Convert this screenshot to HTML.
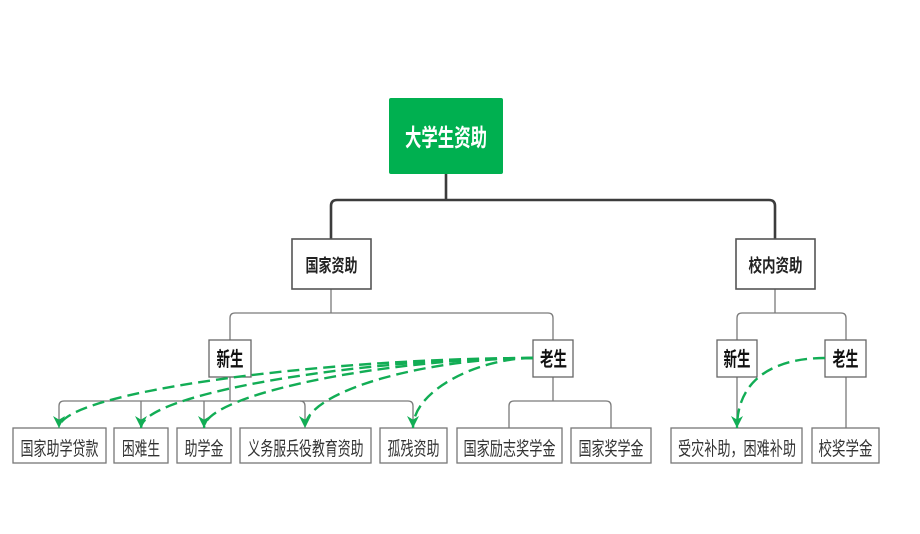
<!DOCTYPE html>
<html><head><meta charset="utf-8"><style>
html,body{margin:0;padding:0;background:#fff;}
svg{display:block;}
text{font-family:"Liberation Sans","Noto Sans CJK SC",sans-serif;}
</style></head><body>
<svg width="920" height="534" viewBox="0 0 920 534" xmlns="http://www.w3.org/2000/svg">
<defs>
<marker id="ah" markerUnits="userSpaceOnUse" markerWidth="12" markerHeight="12" viewBox="0 0 10 10" refX="10" refY="5" orient="auto">
<path d="M0,0 L10,5 L0,10 L3,5 z" fill="#12ad55"/>
</marker>
</defs>
<rect width="920" height="534" fill="#fff"/>

<!-- root connectors -->
<g fill="none" stroke="#3c3c3c" stroke-width="2.6">
<path d="M446,174 V200"/>
<path d="M331,239 V206 Q331,200 337,200 H769 Q775,200 775,206 V239"/>
</g>

<!-- lower connectors -->
<g fill="none" stroke="#7a7a7a" stroke-width="1.3">
<path d="M331,289 V313"/>
<path d="M230,340 V318 Q230,313 235,313 H548 Q553,313 553,318 V340"/>
<path d="M230,377 V401"/>
<path d="M59,428 V406 Q59,401 64,401 H408 Q413,401 413,406 V428"/>
<path d="M141,401 V428"/>
<path d="M204,401 V428"/>
<path d="M305,406 Q305,401 300,401 M305,406 V428"/>
<path d="M553,377 V401"/>
<path d="M509,428 V406 Q509,401 514,401 H606 Q611,401 611,406 V428"/>
<path d="M775,289 V313"/>
<path d="M737,340 V318 Q737,313 742,313 H841 Q846,313 846,318 V340"/>
<path d="M737,377 V428"/>
<path d="M846,377 V428"/>
</g>

<!-- root -->
<rect x="389" y="98" width="114" height="76" rx="2" fill="#00b050"/>
<text x="446" y="146" font-size="24" font-weight="bold" fill="#fff" text-anchor="middle" textLength="82" lengthAdjust="spacingAndGlyphs">大学生资助</text>

<!-- level 2 -->
<g fill="#fff" stroke="#555" stroke-width="1.6">
<rect x="292" y="239" width="79" height="50"/>
<rect x="736" y="239" width="79" height="50"/>
</g>
<text x="331.5" y="272" font-size="18" font-weight="bold" fill="#222" text-anchor="middle" textLength="52" lengthAdjust="spacingAndGlyphs">国家资助</text>
<text x="775.5" y="272" font-size="18" font-weight="bold" fill="#222" text-anchor="middle" textLength="54" lengthAdjust="spacingAndGlyphs">校内资助</text>

<!-- level 3 -->
<g fill="#fff" stroke="#666" stroke-width="1.3">
<rect x="209" y="340" width="42" height="37"/>
<rect x="533" y="340" width="40" height="37"/>
<rect x="717" y="340" width="40" height="37"/>
<rect x="825" y="340" width="41" height="37"/>
</g>
<g font-size="20" font-weight="bold" fill="#111" text-anchor="middle">
<text x="230" y="366" textLength="27" lengthAdjust="spacingAndGlyphs">新生</text>
<text x="553.5" y="366" textLength="27" lengthAdjust="spacingAndGlyphs">老生</text>
<text x="737" y="366" textLength="27" lengthAdjust="spacingAndGlyphs">新生</text>
<text x="845.5" y="366" textLength="26" lengthAdjust="spacingAndGlyphs">老生</text>
</g>

<!-- leaves -->
<g fill="#fff" stroke="#777" stroke-width="1.3">
<rect x="13" y="428" width="93" height="35"/>
<rect x="114" y="428" width="54" height="35"/>
<rect x="177" y="428" width="54" height="35"/>
<rect x="240" y="428" width="131" height="35"/>
<rect x="380" y="428" width="67" height="35"/>
<rect x="457" y="428" width="105" height="35"/>
<rect x="571" y="428" width="80" height="35"/>
<rect x="671" y="428" width="131" height="35"/>
<rect x="812" y="428" width="67" height="35"/>
</g>
<g font-size="19" fill="#333" text-anchor="middle">
<text x="59.5" y="455" textLength="78" lengthAdjust="spacingAndGlyphs">国家助学贷款</text>
<text x="141" y="455" textLength="38" lengthAdjust="spacingAndGlyphs">困难生</text>
<text x="204" y="455" textLength="39" lengthAdjust="spacingAndGlyphs">助学金</text>
<text x="305.5" y="455" textLength="116" lengthAdjust="spacingAndGlyphs">义务服兵役教育资助</text>
<text x="413.5" y="455" textLength="52" lengthAdjust="spacingAndGlyphs">孤残资助</text>
<text x="509.5" y="455" textLength="92" lengthAdjust="spacingAndGlyphs">国家励志奖学金</text>
<text x="611" y="455" textLength="65" lengthAdjust="spacingAndGlyphs">国家奖学金</text>
<text x="737" y="455" textLength="118" lengthAdjust="spacingAndGlyphs">受灾补助，困难补助</text>
<text x="845.5" y="455" textLength="54" lengthAdjust="spacingAndGlyphs">校奖学金</text>
</g>

<!-- green dashed curves -->
<g fill="none" stroke="#12ad55" stroke-width="2.4" stroke-dasharray="12 6" marker-end="url(#ah)">
<path d="M533,358 C325,358 59,392 59,428"/>
<path d="M533,358 C360,358 141,394 141,428"/>
<path d="M533,358 C390,358 204,394 204,428"/>
<path d="M533,358 C431,358 305,390 305,428"/>
<path d="M533,358 C479,358 413,390 413,428"/>
<path d="M825,358 C780,358 737,375 737,428"/>
</g>
</svg>
</body></html>
